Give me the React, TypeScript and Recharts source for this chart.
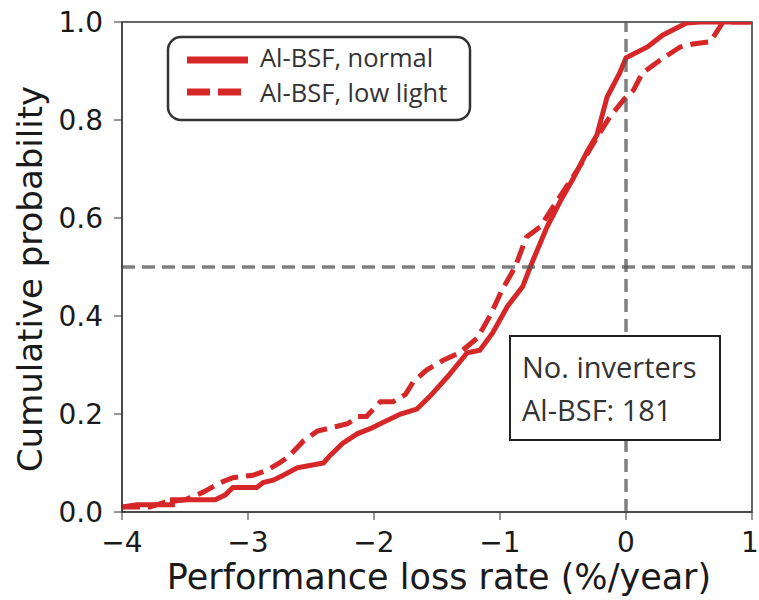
import React from 'react';
import {
  LineChart,
  Line,
  XAxis,
  YAxis,
  ReferenceLine,
  ReferenceArea,
} from 'recharts';

// ECDF of performance loss rate
const lossRateNormal = [
  -4.0, -3.88, -3.6, -3.6, -3.44, -3.26, -3.18, -3.12, -2.93, -2.88, -2.8, -2.72, -2.61, -2.51,
  -2.4, -2.35, -2.25, -2.13, -2.03, -1.95, -1.79, -1.66, -1.56, -1.42, -1.26, -1.16, -1.06,
  -0.94, -0.82, -0.76, -0.63, -0.52, -0.42, -0.31, -0.23, -0.15, -0.05, 0.0, 0.17, 0.29, 0.48,
  0.59, 1.0,
];
const cdfNormal = [
  0.01, 0.015, 0.015, 0.025, 0.025, 0.025, 0.035, 0.05, 0.05, 0.06, 0.065, 0.075, 0.09, 0.095,
  0.1, 0.115, 0.14, 0.16, 0.17, 0.18, 0.2, 0.21, 0.235, 0.275, 0.325, 0.33, 0.365, 0.42, 0.46,
  0.5, 0.58, 0.635, 0.68, 0.735, 0.77, 0.847, 0.896, 0.927, 0.949, 0.973, 0.998, 1.0, 1.0,
];

const lossRateLow = [
  -4.0, -3.78, -3.66, -3.5, -3.36, -3.22, -3.12, -2.96, -2.85, -2.75, -2.67, -2.56, -2.45, -2.29,
  -2.21, -2.13, -2.06, -1.95, -1.85, -1.75, -1.69, -1.58, -1.45, -1.32, -1.18, -1.08, -0.98,
  -0.88, -0.79, -0.68, -0.58, -0.37, -0.23, -0.13, -0.02, 0.06, 0.13, 0.27, 0.43, 0.53, 0.67,
  0.77, 1.0,
];
const cdfLow = [
  0.01, 0.01, 0.02, 0.025, 0.04, 0.06, 0.07, 0.075, 0.085, 0.1, 0.115, 0.145, 0.165, 0.175,
  0.18, 0.195, 0.195, 0.225, 0.225, 0.24, 0.265, 0.29, 0.31, 0.325, 0.355, 0.4, 0.455, 0.5,
  0.561, 0.582, 0.622, 0.704, 0.765, 0.806, 0.841, 0.861, 0.896, 0.922, 0.949, 0.955, 0.96,
  1.0, 1.0,
];

const xTicks = [-4, -3, -2, -1, 0, 1];
const yTicks = [0, 0.2, 0.4, 0.6, 0.8, 1.0];

const normalData = lossRateNormal.map((x, i) => ({ x, y: cdfNormal[i] }));
const lowData = lossRateLow.map((x, i) => ({ x, y: cdfLow[i] }));

const RED = '#d62728';
const TICK_FONT = 'DejaVu Sans, sans-serif';
const NOTE_FONT = '"Open Sans", sans-serif';

const fmtX = (v: number) => (v < 0 ? `\u2212${Math.abs(v)}` : String(v));

// bottom tick; the last one is nudged so it stays inside the page
function XTick(props: any) {
  const { x, y, payload } = props;
  const v = payload.value as number;
  return (
    <text
      x={v === 1 ? x - 2 : x}
      y={y}
      dy="0.71em"
      textAnchor="middle"
      fontSize={28}
      fill="#1a1a1a"
      fontFamily={TICK_FONT}
    >
      {fmtX(v)}
    </text>
  );
}

export default function App() {
  return (
    <div style={{ position: 'absolute', left: 0, top: 0, width: 759, height: 600, background: '#fff' }}>
      <LineChart width={759} height={600} margin={{ top: 22, right: 7, bottom: 0, left: 0 }}>
        <XAxis
          type="number"
          dataKey="x"
          domain={[-4, 1]}
          ticks={xTicks}
          allowDataOverflow
          height={88}
          tickSize={8}
          tickMargin={12}
          stroke="#333"
          tick={<XTick />}
        />
        <YAxis
          type="number"
          dataKey="y"
          domain={[0, 1]}
          ticks={yTicks}
          allowDataOverflow
          width={122}
          tickSize={8}
          tickMargin={11}
          tickFormatter={(v: number) => v.toFixed(1)}
          stroke="#333"
          tick={{ fontSize: 28, fill: '#1a1a1a', fontFamily: TICK_FONT }}
        />
        <Line
          data={normalData}
          dataKey="y"
          type="linear"
          stroke={RED}
          strokeWidth={5}
          dot={false}
          isAnimationActive={false}
        />
        <Line
          data={lowData}
          dataKey="y"
          type="linear"
          stroke={RED}
          strokeWidth={5}
          strokeDasharray="18 8"
          dot={false}
          isAnimationActive={false}
        />
        <ReferenceLine y={0.5} stroke="#555" strokeOpacity={0.75} strokeWidth={3.5} strokeDasharray="13 7" />
        <ReferenceLine x={0} stroke="#555" strokeOpacity={0.75} strokeWidth={3.5} strokeDasharray="13 7" />
        <ReferenceArea x1={-4} x2={1} y1={0} y2={1} fill="none" stroke="#333" strokeWidth={1.5} />
      </LineChart>

      <svg
        width={759}
        height={600}
        style={{ position: 'absolute', left: 0, top: 0, pointerEvents: 'none' }}
      >
        {/* axis labels */}
        <text x={439} y={589} textAnchor="middle" fontSize={35} fill="#1a1a1a" fontFamily={TICK_FONT}>
          Performance loss rate (%/year)
        </text>
        <text
          x={42}
          y={279}
          transform="rotate(-90 42 279)"
          textAnchor="middle"
          fontSize={34}
          fill="#1a1a1a"
          fontFamily={TICK_FONT}
        >
          Cumulative probability
        </text>

        {/* legend */}
        <rect x={168} y={37} width={302} height={83} rx={13} fill="#fff" stroke="#333" strokeWidth={2.5} />
        <line x1={187} y1={60} x2={248} y2={60} stroke={RED} strokeWidth={7} />
        <line x1={187} y1={92} x2={248} y2={92} stroke={RED} strokeWidth={7} strokeDasharray="23 8" />
        <text x={260} y={67} fontSize={25.5} fill="#333" fontFamily={NOTE_FONT}>
          Al-BSF, normal
        </text>
        <text x={260} y={102} fontSize={25.5} fill="#333" fontFamily={NOTE_FONT}>
          Al-BSF, low light
        </text>

        {/* inverter count note */}
        <rect x={510} y={336} width={210} height={104} fill="#fff" stroke="#222" strokeWidth={2} />
        <text x={522} y={378} fontSize={29} fill="#333" fontFamily={NOTE_FONT}>
          No. inverters
        </text>
        <text x={522} y={421} fontSize={29} fill="#333" fontFamily={NOTE_FONT}>
          Al-BSF: 181
        </text>
      </svg>
    </div>
  );
}
